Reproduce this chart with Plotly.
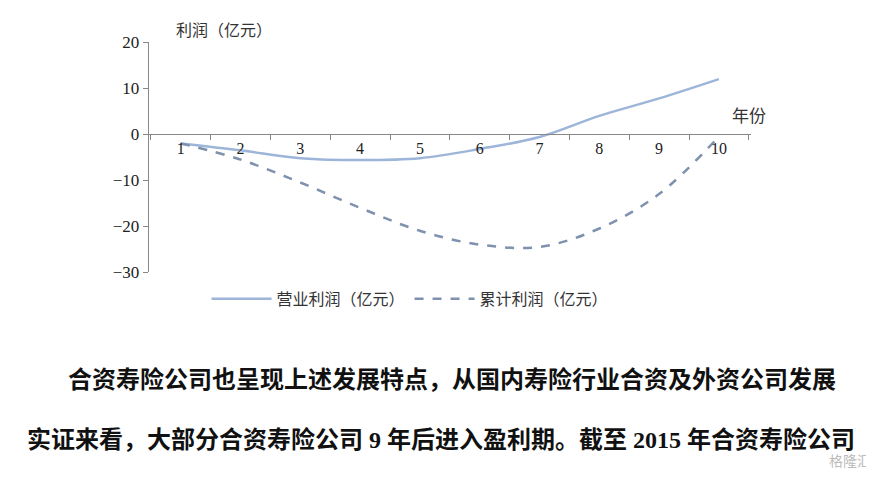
import plotly.graph_objects as go

years = [1, 2, 3, 4, 5, 6, 7, 8, 9, 10]
year_labels = [str(y) for y in years]
operating_profit = [-2, -3.5, -5.2, -5.6, -5.2, -3.2, -0.6, 4, 7.8, 12]
cumulative_profit = [-2, -5.5, -10.5, -16, -21, -24, -24.5, -20.5, -13, -0.5]

fig = go.Figure()
fig.add_trace(go.Scatter(x=years, y=operating_profit, mode="lines", name="营业利润（亿元）",
                         line=dict(color="#9cb5d8", width=2.5, shape="spline")))
fig.add_trace(go.Scatter(x=years, y=cumulative_profit, mode="lines", name="累计利润（亿元）",
                         line=dict(color="#7e91ae", width=2.5, dash="dash", shape="spline")))

# y=0 sits at about 0.739 of the page height
fig.update_layout(
    width=874, height=483, margin=dict(l=0, r=0, t=0, b=0),
    paper_bgcolor="white", plot_bgcolor="white",
    font=dict(family="Liberation Serif, Noto Sans CJK SC", size=15, color="#222"),
    xaxis=dict(domain=[0.161, 0.850], range=[0.465, 10.535], anchor="free", position=0.739,
               showline=True, linecolor="#888", tickvals=years, ticktext=year_labels,
               ticks="", showgrid=False, zeroline=False, tickfont=dict(size=16), automargin=False,
               minor=dict(tick0=0.5, dtick=1, ticks="outside", ticklen=5, tickcolor="#888")),
    yaxis=dict(domain=[0.453, 0.929], range=[-30, 20], dtick=10, showline=True, linecolor="#888",
               ticks="outside", ticklen=5, tickcolor="#888", showgrid=False, zeroline=False,
               tickfont=dict(size=17), automargin=False),
    legend=dict(orientation="h", x=0.46, xanchor="center", y=0.398, yanchor="middle",
                font=dict(family="Noto Sans CJK SC", size=16, color="#333"), tracegroupgap=0,
                itemwidth=60),
)

cjk = dict(family="Noto Sans CJK SC", size=16, color="#333")
fig.add_annotation(text="利润（亿元）", x=0.19, y=0.985, xref="paper", yref="paper",
                   showarrow=False, xanchor="left", font=cjk)
fig.add_annotation(text="年份", x=0.848, y=0.81, xref="paper", yref="paper",
                   showarrow=False, xanchor="center", font=dict(family="Noto Sans CJK SC", size=17, color="#333"))

body = dict(family="Liberation Serif, Noto Sans CJK SC", size=24, color="#111")
fig.add_annotation(text="<b>合资寿险公司也呈现上述发展特点，从国内寿险行业合资及外资公司发展</b>",
                   x=0.066, y=0.198, xref="paper", yref="paper", showarrow=False,
                   xanchor="left", font=body)
fig.add_annotation(text="<b>实证来看，大部分合资寿险公司 9 年后进入盈利期。截至 2015 年合资寿险公司</b>",
                   x=0.02, y=0.075, xref="paper", yref="paper", showarrow=False,
                   xanchor="left", font=body)
fig.add_annotation(text="格隆汇", x=0.99, y=0.04, xref="paper", yref="paper", showarrow=False,
                   xanchor="right", font=dict(family="Noto Sans CJK SC", size=14, color="#bbb"))

fig.write_html("out.html")
